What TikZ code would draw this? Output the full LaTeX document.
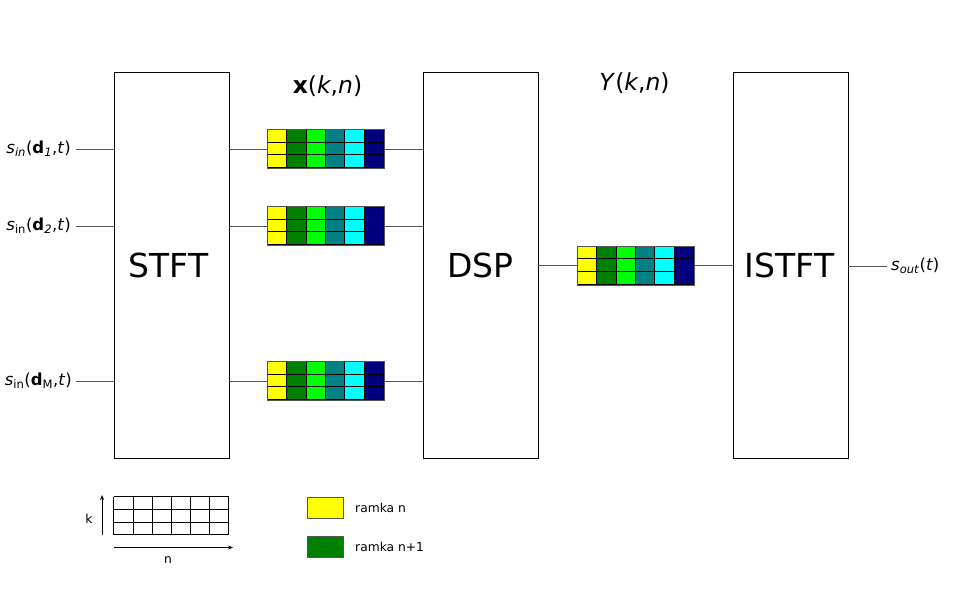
\documentclass[tikz,border=0pt]{standalone}
\usepackage{fontspec}
\setmainfont{DejaVu Sans}
\usetikzlibrary{arrows.meta,calc}
\definecolor{cyel}{HTML}{FFFF00}
\definecolor{cgrn}{HTML}{008000}
\definecolor{clim}{HTML}{00FF00}
\definecolor{ctea}{HTML}{008080}
\definecolor{ccya}{HTML}{00FFFF}
\definecolor{cnav}{HTML}{000080}
\definecolor{wire}{HTML}{555555}
\tikzset{
  block/.style={draw=black,line width=0.8pt,minimum width=115pt,minimum height=386pt,inner sep=0pt,font=\fontsize{33}{38}\selectfont},
  gridbox/.style={draw=wire,line width=0.9pt,minimum width=116pt,minimum height=38pt,inner sep=0pt},
  wireline/.style={draw=wire,line width=0.9pt},
  lbl/.style={inner sep=0pt,font=\fontsize{16.5}{19}\selectfont},
  small/.style={inner sep=0pt,font=\fontsize{12.3}{14}\selectfont},
  axis/.style={draw=black,line width=0.8pt,-{Stealth[length=5pt,width=4pt]}}
}
\newcommand{\cellgrid}[1]{%
  \foreach \c [count=\i from 0] in {cyel,cgrn,clim,ctea,ccya,cnav}{
    \foreach \j in {0,1,2}{
      \fill[\c] ($(#1.north west)+(\i*116/6,\j*38/3)$) rectangle ++(116/6,38/3);
      \draw[black,line width=0.9pt] ($(#1.north west)+(\i*116/6,\j*38/3)$) rectangle ++(116/6,38/3);
    }}
  \draw[wire,line width=0.9pt] (#1.north west) rectangle (#1.south east);
}
\begin{document}
\begin{tikzpicture}[x=1pt,y=-1pt]
\useasboundingbox[fill=white] (0,0) rectangle (960,594);
% main blocks
\node[block] (stft) at (171.5,265) {\hspace*{-6pt}STFT};
\node[block] (dsp) at (480.5,265) {DSP};
\node[block] (istft) at (790.5,265) {\hspace*{-2pt}ISTFT};
% grids
\node[gridbox] (g1) at (326,149) {};
\node[gridbox] (g2) at (326,226) {};
\node[gridbox] (g3) at (326,381) {};
\node[gridbox] (gy) at (636,265.5) {};
\cellgrid{g1}\cellgrid{g2}\cellgrid{g3}\cellgrid{gy}
% labels on top
\node[inner sep=0pt,font=\fontsize{23.5}{27}\selectfont] (xl) at (327.5,86) {\textbf{x}(\textit{k},\textit{n})};
\node[inner sep=0pt,font=\fontsize{23.5}{27}\selectfont] (yl) at (634.5,83) {\textit{Y}(\textit{k},\textit{n})};
% inputs
\node[lbl,anchor=east] (s1) at (71,149) {\textit{s}\textsubscript{\textit{in}}(\textbf{d}\textsubscript{\textit{1}},\textit{t})};
\node[lbl,anchor=east] (s2) at (71,226) {\textit{s}\textsubscript{in}(\textbf{d}\textsubscript{\textit{2}},\textit{t})};
\node[lbl,anchor=east] (s3) at (72,381) {\textit{s}\textsubscript{in}(\textbf{d}\textsubscript{M},\textit{t})};
\draw[wireline] ($(s1.east)+(5,0)$) -- (s1.east -| stft.west);
\draw[wireline] ($(s2.east)+(5,0)$) -- (s2.east -| stft.west);
\draw[wireline] ($(s3.east)+(4,0)$) -- (s3.east -| stft.west);
% stft -> grids -> dsp
\draw[wireline] (g1.west -| stft.east) -- (g1.west);
\draw[wireline] (g2.west -| stft.east) -- (g2.west);
\draw[wireline] (g3.west -| stft.east) -- (g3.west);
\draw[wireline] (g1.east) -- (g1.east -| dsp.west);
\draw[wireline] (g2.east) -- (g2.east -| dsp.west);
\draw[wireline] (g3.east) -- (g3.east -| dsp.west);
% dsp -> gy -> istft
\draw[wireline] (gy.west -| dsp.east) -- (gy.west);
\draw[wireline] (gy.east) -- (gy.east -| istft.west);
% output
\node[lbl,anchor=west] (so) at (891,266) {\textit{s}\textsubscript{\textit{out}}(\textit{t})};
\draw[wireline] (so.west -| istft.east) -- ($(so.west)+(-4,0)$);
% legend
\node[inner sep=0pt,minimum width=115pt,minimum height=38pt] (lg) at (171.5,516) {};
\foreach \i in {0,...,6}{\draw[black,line width=0.8pt] ($(lg.north west)+(\i*115/6,0)$) -- ($(lg.south west)+(\i*115/6,0)$);}
\foreach \j in {0,...,3}{\draw[black,line width=0.8pt] ($(lg.north west)+(0,\j*38/3)$) -- ($(lg.north east)+(0,\j*38/3)$);}
\coordinate (kb) at (102,535);
\coordinate (kt) at (102,495);
\draw[axis] (kb) -- (kt);
\node[small] (kl) at (89,519) {k};
\coordinate (nl0) at (114,547.5);
\coordinate (nl1) at (233,547.5);
\draw[axis] (nl0) -- (nl1);
\node[small] (nl) at (168,560) {n};
\node[draw=wire,line width=0.8pt,fill=cyel,minimum width=36pt,minimum height=21pt,inner sep=0pt] (ly) at (325,507.5) {};
\node[draw=wire,line width=0.8pt,fill=cgrn,minimum width=36pt,minimum height=21pt,inner sep=0pt] (lgr) at (325,547) {};
\node[small,anchor=west] (ty) at (355,508) {ramka n};
\node[small,anchor=west] (tg) at (355,547) {ramka n+1};
\end{tikzpicture}
\end{document}
